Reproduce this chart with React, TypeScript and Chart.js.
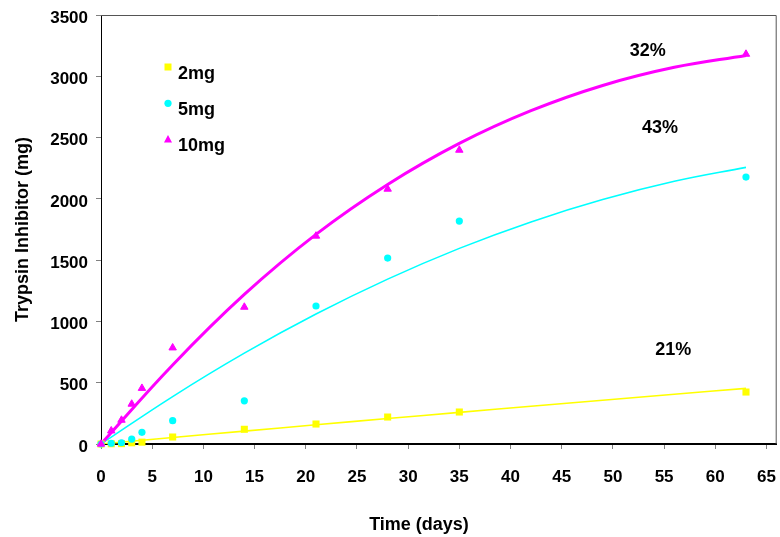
import React, { useEffect, useRef } from 'react';
import { Chart, registerables } from 'chart.js';

Chart.register(...registerables);

// ---- data ----
const days = [0, 1, 2, 3, 4, 7, 14, 21, 28, 35, 63];
const mg2 = [0, 2, 3, 10, 15, 57, 120, 163, 220, 261, 424];
const mg5 = [0, 6, 10, 40, 95, 190, 352, 1126, 1517, 1819, 2178];
const mg10 = [0, 108, 195, 326, 455, 785, 1117, 1697, 2080, 2398, 3181];

const trendDays = [0, 7, 14, 21, 28, 35, 42, 49, 56, 63];
const trend2 = [0, 53, 105, 157, 208, 258, 308, 357, 406, 454];
const trend5 = [0, 387, 741, 1060, 1345, 1596, 1812, 1994, 2143, 2257];
const trend10 = [0, 645, 1220, 1710, 2117, 2452, 2719, 2925, 3073, 3170];

const seriesNames = ['2mg', '5mg', '10mg'];
const seriesColors = ['#FFFF00', '#00FFFF', '#FF00FF'];
const seriesStyles = ['rect', 'circle', 'triangle'];

const pctLabels = ['21%', '43%', '32%'];
const pctX = [55.9, 54.6, 53.4];
const pctY = [726, 2540, 3166];

const xMin = 0;
const xMax = 66;
const xStep = 5;
const yMin = 0;
const yMax = 3500;
const yStep = 500;

const xTitle = 'Time (days)';
const yTitle = 'Trypsin Inhibitor (mg)';

const FONT = '"Liberation Sans", Arial, Helvetica, sans-serif';

const toXY = (xs: number[], ys: number[]) => xs.map((x, i) => ({ x, y: ys[i] }));

function drawMarker(ctx: CanvasRenderingContext2D, style: string, x: number, y: number, color: string) {
  ctx.save();
  ctx.fillStyle = color;
  ctx.beginPath();
  if (style === 'rect') {
    ctx.rect(x - 3.5, y - 3.5, 7, 7);
  } else if (style === 'circle') {
    ctx.arc(x, y, 3.6, 0, Math.PI * 2);
  } else {
    ctx.moveTo(x, y - 4.5);
    ctx.lineTo(x + 4, y + 2.8);
    ctx.lineTo(x - 4, y + 2.8);
    ctx.closePath();
  }
  ctx.fill();
  ctx.restore();
}

const overlayPlugin = {
  id: 'overlay',
  afterDraw(chart: any) {
    const { ctx, chartArea } = chart;
    const xs = chart.scales.x;
    const ys = chart.scales.y;
    ctx.save();
    // plot frame (top and right)
    ctx.strokeStyle = '#555555';
    ctx.lineWidth = 1;
    ctx.beginPath();
    ctx.moveTo(chartArea.left, chartArea.top + 0.5);
    ctx.lineTo(chartArea.right - 0.5, chartArea.top + 0.5);
    ctx.lineTo(chartArea.right - 0.5, chartArea.bottom);
    ctx.stroke();

    // legend
    const lx = chartArea.left + 67;
    const ly = chartArea.top + 52;
    ctx.font = `bold 18px ${FONT}`;
    ctx.fillStyle = '#000';
    ctx.textAlign = 'left';
    ctx.textBaseline = 'alphabetic';
    seriesNames.forEach((name, i) => {
      const my = ly + i * 36.3;
      drawMarker(ctx, seriesStyles[i], lx, my, seriesColors[i]);
      ctx.fillStyle = '#000';
      ctx.fillText(name, lx + 10, my + 11.5);
    });

    // percentage labels
    ctx.font = `bold 18px ${FONT}`;
    ctx.textAlign = 'center';
    pctLabels.forEach((t, i) => {
      ctx.fillText(t, xs.getPixelForValue(pctX[i]), ys.getPixelForValue(pctY[i]));
    });

    // x title
    ctx.font = `bold 18px ${FONT}`;
    ctx.textAlign = 'center';
    ctx.fillText(xTitle, 419, 530);
    ctx.restore();
  },
};

export default function App() {
  const ref = useRef<HTMLCanvasElement | null>(null);

  useEffect(() => {
    if (!ref.current) return;
    const pointRadius = [5, 3.6, 4.3];
    const trendWidth = [1.6, 1.6, 3];
    const pointSets = [mg2, mg5, mg10];
    const trendSets = [trend2, trend5, trend10];

    const datasets: any[] = [];
    pointSets.forEach((vals, i) => {
      datasets.push({
        label: seriesNames[i],
        data: toXY(days, vals),
        showLine: false,
        pointStyle: seriesStyles[i],
        pointRadius: pointRadius[i],
        pointBackgroundColor: seriesColors[i],
        pointBorderColor: seriesColors[i],
        pointBorderWidth: i === 2 ? 1 : 0,
        backgroundColor: seriesColors[i],
        borderColor: seriesColors[i],
        order: 3 - i,
        clip: false,
      });
    });
    trendSets.forEach((vals, i) => {
      datasets.push({
        label: seriesNames[i] + ' trend',
        data: toXY(trendDays, vals),
        showLine: true,
        pointRadius: 0,
        borderColor: seriesColors[i],
        borderWidth: trendWidth[i],
        tension: 0.4,
        fill: false,
        order: 10 - i,
      });
    });

    const chart = new Chart(ref.current, {
      type: 'scatter',
      data: { datasets },
      options: {
        animation: false,
        responsive: true,
        maintainAspectRatio: false,
        layout: { padding: { top: 15, right: 0, left: 0, bottom: 0 } },
        plugins: {
          legend: { display: false },
          tooltip: { enabled: false },
        },
        scales: {
          x: {
            type: 'linear',
            position: 'bottom',
            min: xMin,
            max: xMax,
            ticks: {
              stepSize: xStep,
              includeBounds: false,
              color: '#000',
              padding: 18,
              font: { family: FONT, size: 17, weight: 'bold' },
              callback: (v: any) => String(v),
            },
            grid: { drawOnChartArea: false, drawTicks: true, tickLength: 5, color: '#808080' },
            border: { color: '#000', width: 2 },
            afterFit: (s: any) => {
              s.height = 93;
              s.paddingLeft = 0;
              s.paddingRight = 0;
            },
          },
          y: {
            type: 'linear',
            min: yMin,
            max: yMax,
            ticks: {
              stepSize: yStep,
              color: '#000',
              padding: 8,
              labelOffset: 3,
              font: { family: FONT, size: 17, weight: 'bold' },
              callback: (v: any) => String(v),
            },
            grid: { drawOnChartArea: false, drawTicks: true, tickLength: 5, color: '#808080' },
            border: { color: '#000', width: 1 },
            title: {
              display: true,
              text: yTitle,
              color: '#000',
              font: { family: FONT, size: 18, weight: 'bold' },
              padding: { top: 12, bottom: 0 },
            },
            afterFit: (s: any) => {
              s.width = 101;
              s.paddingTop = 0;
              s.paddingBottom = 0;
            },
          },
        },
      } as any,
      plugins: [overlayPlugin],
    });
    return () => chart.destroy();
  }, []);

  return (
    <div style={{ position: 'fixed', left: 0, top: 0, width: 782, height: 537, background: '#fff' }}>
      <canvas ref={ref} />
    </div>
  );
}
